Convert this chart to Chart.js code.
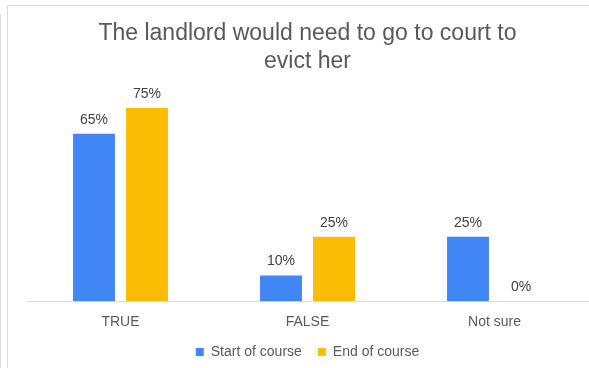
<!DOCTYPE html>
<html>
<head>
<meta charset="utf-8">
<script src="https://cdn.jsdelivr.net/npm/chart.js@4.4.0/dist/chart.umd.min.js"></script>
<style>
    html, body { margin: 0; padding: 0; background: #fff; }
    #frame { position: absolute; left: 7px; top: 5px; width: 600px; height: 400px; border: 1px solid #d9d9d9; }
    #edge { position: absolute; left: 0; top: 14px; width: 1px; height: 360px; background: #e0e0e0; }
    #wrap { position: absolute; left: 0; top: 0; width: 589px; height: 368px; }
</style>
</head>
<body>
<div id="edge"></div>
<div id="frame"></div>
<div id="wrap"><canvas id="chart"></canvas></div>
<script>
var categories = ['TRUE', 'FALSE', 'Not sure'];
var startOfCourse = [65, 10, 25];
var endOfCourse = [75, 25, 0];
var seriesNames = ['Start of course', 'End of course'];

// draw the % labels above each bar
var valueLabels = {
    id: 'valueLabels',
    afterDatasetsDraw: function(chart) {
        var ctx = chart.ctx;
        ctx.save();
        ctx.font = '14px "Liberation Sans", Arial, sans-serif';
        ctx.fillStyle = '#404040';
        ctx.textAlign = 'center';
        ctx.textBaseline = 'bottom';
        chart.data.datasets.forEach(function(ds, i) {
            chart.getDatasetMeta(i).data.forEach(function(bar, j) {
                ctx.fillText(ds.data[j] + '%', bar.x, bar.y - 7);
            });
        });
        ctx.restore();
    }
};

new Chart(document.getElementById('chart'), {
    type: 'bar',
    data: {
        labels: categories,
        datasets: [{
            label: seriesNames[0],
            data: startOfCourse,
            backgroundColor: '#4285F4',
            categoryPercentage: 0.567,
            barPercentage: 0.79
        }, {
            label: seriesNames[1],
            data: endOfCourse,
            backgroundColor: '#FBBC04',
            categoryPercentage: 0.567,
            barPercentage: 0.79
        }]
    },
    options: {
        responsive: true,
        maintainAspectRatio: false,
        animation: false,
        layout: { padding: { left: 27, right: 1, top: 0, bottom: -1 } },
        plugins: {
            title: {
                display: true,
                text: ['The landlord would need to go to court to', 'evict her'],
                color: '#595959',
                font: { family: '"Liberation Sans", Arial, sans-serif', size: 23, weight: 'normal', lineHeight: 1.2 },
                padding: { top: 20, bottom: 20 }
            },
            legend: {
                position: 'bottom',
                labels: {
                    color: '#595959',
                    font: { family: '"Liberation Sans", Arial, sans-serif', size: 14 },
                    boxWidth: 8,
                    boxHeight: 8,
                    padding: 16
                }
            },
            tooltip: { enabled: false }
        },
        scales: {
            x: {
                grid: { display: false },
                border: { color: '#d9d9d9' },
                ticks: {
                    color: '#595959',
                    font: { family: '"Liberation Sans", Arial, sans-serif', size: 14 },
                    padding: 5
                },
                afterFit: function(axis) {
                    axis.height -= 7;
                }
            },
            y: {
                display: false,
                min: 0,
                max: 80
            }
        }
    },
    plugins: [valueLabels]
});
</script>
</body>
</html>
